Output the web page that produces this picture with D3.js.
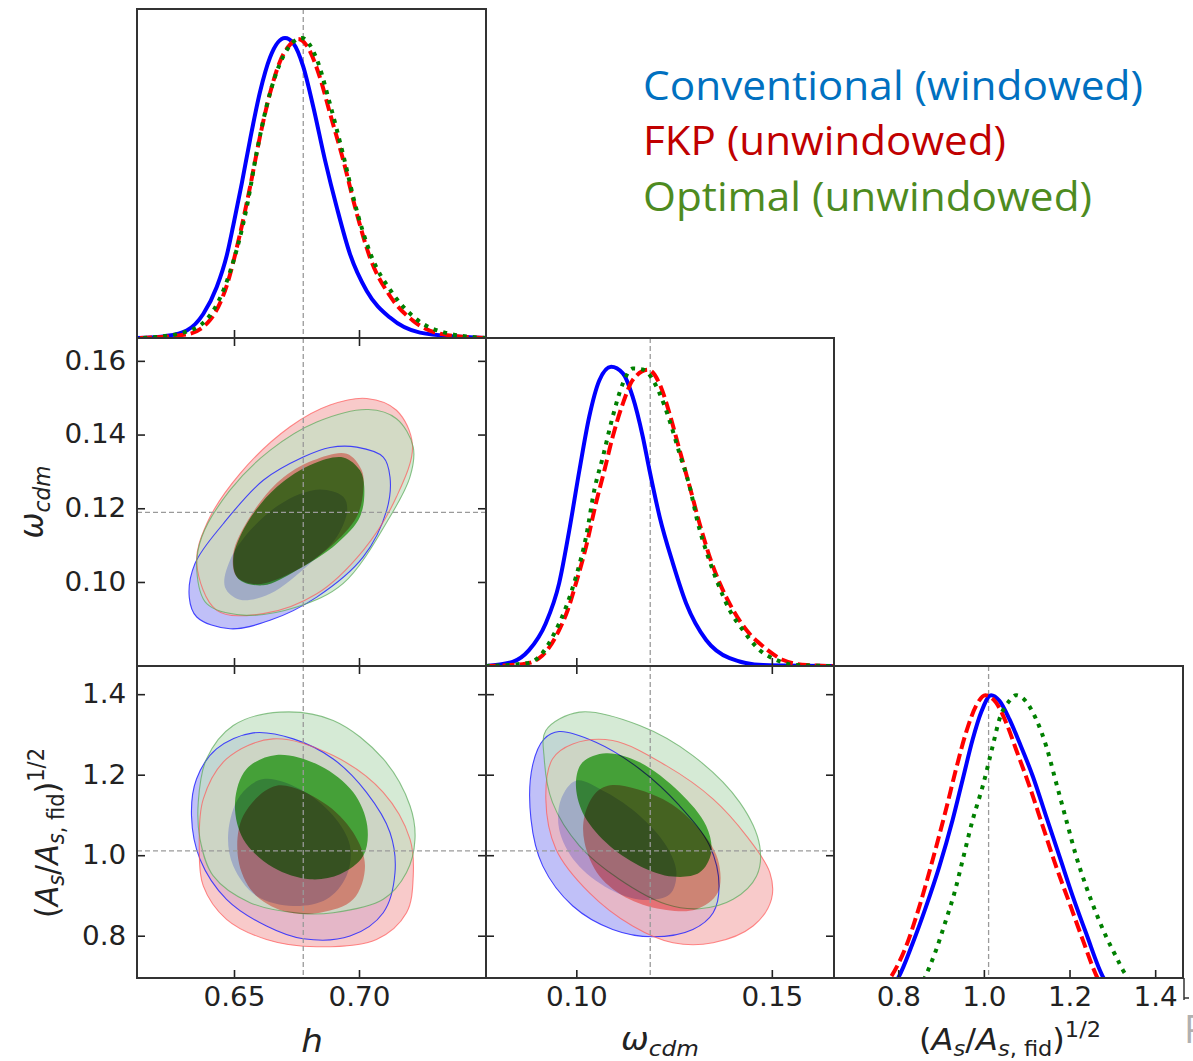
<!DOCTYPE html>
<html><head><meta charset="utf-8">
<script src="https://cdn.jsdelivr.net/npm/d3@7"></script>
<style>body{margin:0;background:#fff}svg{display:block}</style>
</head><body>
<svg id="c" width="1193" height="1061"></svg>
<script>
// ---------------- data ----------------
const seriesNames = ["Conventional (windowed)", "FKP (unwindowed)", "Optimal (unwindowed)"];
const hDomain = [0.6112, 0.7508];
const wDomain = [0.0769, 0.1659];
const wDomainY = [0.0772, 0.1662];
const aDomainX = [0.650, 1.465];
const aDomainY = [0.695, 1.470];
const fiducial = [0.6777, 0.1189, 1.011];
const hTicks = [0.65, 0.70];
const wTicksX = [0.10, 0.15];
const wTicksY = [0.10, 0.12, 0.14, 0.16];
const aTicks = [0.8, 1.0, 1.2, 1.4];

// 1D marginals [value, normalised density]
const h_conv = [[0.6111,0],[0.6231,0.007],[0.6311,0.025],[0.6377,0.08],[0.6431,0.17],[0.6471,0.275],[0.6497,0.375],[0.6531,0.515],[0.6564,0.66],[0.6604,0.82],[0.6644,0.935],[0.6704,1.0],[0.6737,0.983],[0.6777,0.905],[0.6817,0.771],[0.6864,0.593],[0.6911,0.436],[0.6964,0.280],[0.7031,0.157],[0.7124,0.068],[0.7244,0.018],[0.7431,0.003],[0.7508,0]];
const h_fkp = [[0.6124,0],[0.6311,0.012],[0.6404,0.06],[0.6471,0.175],[0.6524,0.347],[0.6564,0.503],[0.6604,0.672],[0.6644,0.816],[0.6684,0.922],[0.6724,0.978],[0.6757,0.997],[0.6791,0.975],[0.6844,0.868],[0.6884,0.749],[0.6937,0.593],[0.6991,0.415],[0.7044,0.268],[0.7124,0.140],[0.7217,0.057],[0.7337,0.012],[0.7508,0]];
const h_opt = [[0.6137,0],[0.6297,0.018],[0.6391,0.062],[0.6484,0.22],[0.6551,0.436],[0.6591,0.62],[0.6631,0.775],[0.6697,0.939],[0.6771,1.0],[0.6831,0.93],[0.6884,0.78],[0.6937,0.61],[0.6991,0.425],[0.7044,0.285],[0.7137,0.146],[0.7231,0.062],[0.7364,0.014],[0.7508,0]];

const w_conv = [[0.0768,0],[0.0837,0.014],[0.0879,0.053],[0.0922,0.143],[0.0956,0.276],[0.0982,0.454],[0.1008,0.655],[0.1033,0.833],[0.1059,0.955],[0.1089,1.0],[0.1119,0.978],[0.1144,0.900],[0.1170,0.766],[0.1187,0.655],[0.1213,0.499],[0.1247,0.343],[0.1281,0.209],[0.1332,0.087],[0.1392,0.026],[0.1478,0.003],[0.1657,0]];
const w_fkp = [[0.0768,0],[0.0862,0.006],[0.0905,0.026],[0.0956,0.120],[0.0978,0.187],[0.0999,0.276],[0.1025,0.399],[0.1050,0.543],[0.1072,0.655],[0.1093,0.766],[0.1119,0.877],[0.1144,0.955],[0.1183,0.990],[0.1217,0.930],[0.1238,0.845],[0.1264,0.722],[0.1290,0.599],[0.1315,0.477],[0.1341,0.365],[0.1367,0.276],[0.1401,0.187],[0.1435,0.120],[0.1478,0.065],[0.1529,0.020],[0.1589,0.003],[0.1657,0]];
const w_opt = [[0.0768,0],[0.0871,0.009],[0.0905,0.031],[0.0948,0.120],[0.0974,0.198],[0.0999,0.298],[0.1025,0.432],[0.1046,0.588],[0.1068,0.699],[0.1093,0.833],[0.1119,0.944],[0.1144,0.994],[0.1170,0.991],[0.1213,0.911],[0.1238,0.822],[0.1264,0.710],[0.1290,0.599],[0.1311,0.477],[0.1337,0.365],[0.1362,0.276],[0.1392,0.187],[0.1426,0.120],[0.1469,0.053],[0.1512,0.020],[0.1563,0.003],[0.1657,0]];

const a_conv = [[0.78,0.02],[0.7998,0.058],[0.8335,0.173],[0.8647,0.295],[0.8959,0.429],[0.9271,0.585],[0.9505,0.719],[0.9739,0.853],[0.9934,0.942],[1.0168,1.0],[1.0363,0.981],[1.0596,0.920],[1.0830,0.842],[1.1142,0.730],[1.1454,0.596],[1.1766,0.463],[1.2078,0.329],[1.2390,0.206],[1.2795,0.058],[1.30,0.02]];
const a_fkp = [[0.76,0.02],[0.7813,0.058],[0.8179,0.162],[0.8491,0.295],[0.8803,0.451],[0.9115,0.619],[0.9349,0.753],[0.9583,0.875],[0.9817,0.964],[1.0035,1.0],[1.0285,0.975],[1.0518,0.909],[1.0752,0.819],[1.1064,0.697],[1.1376,0.563],[1.1688,0.429],[1.2000,0.307],[1.2312,0.184],[1.2624,0.067],[1.28,0.02]];
const a_opt = [[0.85,0.02],[0.8647,0.067],[0.8881,0.150],[0.9115,0.251],[0.9310,0.340],[0.9505,0.451],[0.9739,0.585],[0.9973,0.697],[1.0207,0.831],[1.0363,0.920],[1.0596,0.981],[1.0752,1.0],[1.0908,0.99],[1.1220,0.920],[1.1454,0.831],[1.1688,0.708],[1.1922,0.585],[1.2156,0.463],[1.2390,0.362],[1.2624,0.273],[1.2858,0.195],[1.3091,0.128],[1.3247,0.084],[1.3364,0.058],[1.35,0.03]];

// 2D contours (68% inner, 95% outer)
const hW_conv_outer = [[0.6991,0.1366],[0.7097,0.1339],[0.7124,0.1285],[0.7111,0.1195],[0.7017,0.1068],[0.6831,0.0959],[0.6644,0.0896],[0.6484,0.0873],[0.6351,0.0905],[0.6321,0.0959],[0.6344,0.1050],[0.6457,0.1158],[0.6617,0.1276],[0.6777,0.1339],[0.6884,0.1365]];
const hW_conv_inner = [[0.6844,0.1251],[0.6937,0.1231],[0.6953,0.1195],[0.6911,0.1122],[0.6804,0.1050],[0.6644,0.0968],[0.6524,0.0952],[0.6464,0.0986],[0.6484,0.1059],[0.6577,0.1149],[0.6711,0.1222]];
const hW_fkp_outer = [[0.7031,0.1498],[0.7150,0.1466],[0.7214,0.1371],[0.7150,0.1231],[0.7017,0.1086],[0.6831,0.0968],[0.6617,0.0914],[0.6431,0.0923],[0.6351,0.1050],[0.6391,0.1158],[0.6524,0.1294],[0.6724,0.1421],[0.6884,0.1480]];
const hW_fkp_inner = [[0.6951,0.1348],[0.7011,0.1303],[0.7017,0.1249],[0.6991,0.1177],[0.6884,0.1095],[0.6724,0.1023],[0.6591,0.0994],[0.6511,0.1014],[0.6497,0.1077],[0.6564,0.1177],[0.6684,0.1276],[0.6817,0.1330]];
const hW_opt_outer = [[0.7037,0.1468],[0.7150,0.1443],[0.7217,0.1366],[0.7204,0.1285],[0.7124,0.1177],[0.6937,0.0996],[0.6751,0.0932],[0.6537,0.0910],[0.6391,0.0941],[0.6351,0.1032],[0.6371,0.1122],[0.6484,0.1249],[0.6644,0.1357],[0.6831,0.1434]];
const hW_opt_inner = [[0.6937,0.1338],[0.7004,0.1303],[0.7021,0.1258],[0.7004,0.1177],[0.6911,0.1104],[0.6751,0.1032],[0.6617,0.0991],[0.6517,0.1009],[0.6497,0.1063],[0.6551,0.1158],[0.6671,0.1258],[0.6817,0.1321]];

const hA_conv_outer = [[0.6577,1.3039],[0.6737,1.2890],[0.6897,1.2391],[0.7030,1.1561],[0.7124,1.0565],[0.7144,0.9569],[0.7097,0.8572],[0.6964,0.7991],[0.6777,0.7925],[0.6630,0.8241],[0.6470,0.8905],[0.6364,0.9901],[0.6330,1.0980],[0.6350,1.1893],[0.6430,1.2640]];
const hA_conv_inner = [[0.6617,1.1893],[0.6764,1.1644],[0.6897,1.0980],[0.6964,1.0233],[0.6950,0.9486],[0.6870,0.8905],[0.6737,0.8739],[0.6590,0.8988],[0.6497,0.9735],[0.6477,1.0565],[0.6524,1.1478]];
const hA_fkp_outer = [[0.6657,1.2890],[0.6897,1.2474],[0.7097,1.1561],[0.7204,1.0399],[0.7217,0.9486],[0.7190,0.8573],[0.7070,0.7908],[0.6830,0.7726],[0.6630,0.7908],[0.6470,0.8407],[0.6377,0.9237],[0.6361,1.0233],[0.6377,1.1395],[0.6470,1.2391]];
const hA_fkp_inner = [[0.6670,1.1727],[0.6857,1.1312],[0.6977,1.0565],[0.7024,0.9735],[0.6977,0.8905],[0.6844,0.8572],[0.6697,0.8614],[0.6577,0.9071],[0.6517,0.9901],[0.6537,1.0980]];
const hA_opt_outer = [[0.6684,1.3554],[0.6897,1.3346],[0.7097,1.2391],[0.7204,1.1229],[0.7224,1.0399],[0.7190,0.9569],[0.7097,0.8905],[0.6897,0.8572],[0.6764,0.8556],[0.6564,0.8822],[0.6417,0.9486],[0.6364,1.0399],[0.6357,1.1312],[0.6390,1.2391],[0.6497,1.3222]];
const hA_opt_inner = [[0.6670,1.2491],[0.6844,1.2225],[0.6977,1.1561],[0.7033,1.0731],[0.7017,0.9984],[0.6924,0.9527],[0.6804,0.9403],[0.6657,0.9693],[0.6537,1.0399],[0.6504,1.1312],[0.6550,1.2142]];

const wA_conv_outer = [[0.0956,1.3072],[0.1050,1.2807],[0.1162,1.2142],[0.1264,1.1229],[0.1341,1.0233],[0.1365,0.9237],[0.1350,0.8572],[0.1298,0.8157],[0.1196,0.7975],[0.1093,0.8157],[0.0991,0.8739],[0.0914,0.9735],[0.0884,1.0897],[0.0888,1.2225],[0.0918,1.2890]];
const wA_conv_inner = [[0.0999,1.1852],[0.1076,1.1561],[0.1162,1.0980],[0.1230,1.0233],[0.1256,0.9569],[0.1239,0.9029],[0.1170,0.8888],[0.1085,0.9154],[0.0999,0.9818],[0.0956,1.0648],[0.0961,1.1395]];
const wA_fkp_outer = [[0.0991,1.2765],[0.1093,1.2848],[0.1230,1.2225],[0.1350,1.1395],[0.1435,1.0482],[0.1495,0.9569],[0.1499,0.8905],[0.1452,0.8241],[0.1350,0.7825],[0.1247,0.7825],[0.1144,0.8241],[0.1033,0.9071],[0.0948,1.0150],[0.0922,1.1395],[0.0939,1.2391]];
const wA_fkp_inner = [[0.1093,1.1744],[0.1221,1.1395],[0.1307,1.0731],[0.1362,0.9901],[0.1362,0.9071],[0.1307,0.8655],[0.1230,0.8639],[0.1136,0.8905],[0.1059,0.9486],[0.1021,1.0316],[0.1021,1.0980],[0.1051,1.1561]];
const wA_opt_outer = [[0.0922,1.3097],[0.1008,1.3554],[0.1162,1.3222],[0.1298,1.2474],[0.1418,1.1312],[0.1469,1.0233],[0.1461,0.9486],[0.1401,0.8905],[0.1315,0.8672],[0.1230,0.8780],[0.1110,0.9403],[0.1008,1.0233],[0.0939,1.1312],[0.0918,1.2391]];
const wA_opt_inner = [[0.1076,1.2533],[0.1162,1.2308],[0.1264,1.1561],[0.1332,1.0731],[0.1345,1.0067],[0.1315,0.9569],[0.1247,0.9469],[0.1162,0.9735],[0.1076,1.0316],[0.1016,1.1063],[0.0999,1.1810],[0.1016,1.2308]];

// ---------------- layout & styles ----------------
const colX = [[137,486],[486,834],[834,1183]];
const rowY = [[9,338],[338,666],[666,978]];
const lineColors = ["#0000ff","#ff0000","#008000"];
const dashes = [null, "12,5", "4,6"];
const outerFill = ["rgb(165,165,245)","rgb(245,180,180)","rgb(195,225,195)"];
const outerOpacity = 0.7;
const outerStroke = ["rgba(40,40,255,0.85)","rgba(255,90,90,0.7)","rgba(90,170,90,0.7)"];
const innerFill = ["rgb(200,206,255)","rgb(255,158,150)","rgb(85,192,72)"];
const legendColors = ["#0070C0","#C00000","#4E8B1F"];
const FONT = "DejaVu Sans";
const TL = 8;
const SX = 1.07; // horizontal text stretch of the original

const svg = d3.select("#c");
const defs = svg.append("defs");

const xS = [
  d3.scaleLinear().domain(hDomain).range(colX[0]),
  d3.scaleLinear().domain(wDomain).range(colX[1]),
  d3.scaleLinear().domain(aDomainX).range(colX[2])
];
const yS = [
  null,
  d3.scaleLinear().domain(wDomainY).range([rowY[1][1], rowY[1][0]]),
  d3.scaleLinear().domain(aDomainY).range([rowY[2][1], rowY[2][0]])
];
const diagY = [
  d3.scaleLinear().domain([0, 1.097]).range([rowY[0][1], rowY[0][0]]),
  d3.scaleLinear().domain([0, 1.096]).range([rowY[1][1], rowY[1][0]]),
  d3.scaleLinear().domain([0.058, 1.097]).range([rowY[2][1], rowY[2][0]])
];
const xTickVals = [hTicks, wTicksX, aTicks];
const yTickVals = [null, wTicksY, aTicks];
const marginals = [[h_conv,h_fkp,h_opt],[w_conv,w_fkp,w_opt],[a_conv,a_fkp,a_opt]];
const contours = {
  "1,0": [[hW_conv_outer,hW_fkp_outer,hW_opt_outer],[hW_conv_inner,hW_fkp_inner,hW_opt_inner]],
  "2,0": [[hA_conv_outer,hA_fkp_outer,hA_opt_outer],[hA_conv_inner,hA_fkp_inner,hA_opt_inner]],
  "2,1": [[wA_conv_outer,wA_fkp_outer,wA_opt_outer],[wA_conv_inner,wA_fkp_inner,wA_opt_inner]]
};

function fidStyle(sel){
  return sel.attr("stroke","#9a9a9a").attr("stroke-width",1.3).attr("stroke-dasharray","5,3").attr("fill","none");
}

for (let r = 0; r < 3; r++) {
  for (let c = 0; c <= r; c++) {
    const x0 = colX[c][0], x1 = colX[c][1], y0 = rowY[r][0], y1 = rowY[r][1];
    const id = `clip${r}${c}`;
    defs.append("clipPath").attr("id", id).append("rect")
      .attr("x", x0).attr("y", y0).attr("width", x1 - x0).attr("height", y1 - y0);
    const g = svg.append("g");
    const content = g.append("g").attr("clip-path", `url(#${id})`);
    const xs = xS[c];
    if (r === c) {
      const ys = diagY[r];
      fidStyle(content.append("line")).attr("x1", xs(fiducial[c])).attr("x2", xs(fiducial[c])).attr("y1", y0).attr("y2", y1);
      const line = d3.line().x(d => xs(d[0])).y(d => ys(d[1])).curve(d3.curveMonotoneX);
      marginals[c].forEach((data, k) => {
        const p = content.append("path").attr("d", line(data)).attr("fill","none")
          .attr("stroke", lineColors[k]).attr("stroke-width", 4).attr("stroke-linejoin","round");
        if (dashes[k]) p.attr("stroke-dasharray", dashes[k]);
      });
    } else {
      const ys = yS[r];
      const area = d3.line().x(d => xs(d[0])).y(d => ys(d[1])).curve(d3.curveCatmullRomClosed);
      const [outers, inners] = contours[`${r},${c}`];
      outers.forEach((data, k) => {
        content.append("path").attr("d", area(data)).attr("fill", outerFill[k]).attr("fill-opacity", outerOpacity);
      });
      outers.forEach((data, k) => {
        content.append("path").attr("d", area(data)).attr("fill", "none")
          .attr("stroke", outerStroke[k]).attr("stroke-width", 1.1);
      });
      inners.forEach((data, k) => {
        content.append("path").attr("d", area(data)).attr("fill", innerFill[k])
          .style("mix-blend-mode", "multiply");
      });
      fidStyle(content.append("line")).attr("x1", xs(fiducial[c])).attr("x2", xs(fiducial[c])).attr("y1", y0).attr("y2", y1);
      fidStyle(content.append("line")).attr("y1", ys(fiducial[r])).attr("y2", ys(fiducial[r])).attr("x1", x0).attr("x2", x1);
    }
    // ticks (inward)
    const tickStyle = s => { s.select(".domain").remove(); s.selectAll(".tick line").attr("stroke","#222").attr("stroke-width",1.6); s.selectAll("text").remove(); };
    g.append("g").attr("transform", `translate(0,${y1})`)
      .call(d3.axisBottom(xs).tickValues(xTickVals[c]).tickSize(-TL)).call(tickStyle);
    if (r !== c) {
      const ys = yS[r];
      g.append("g").attr("transform", `translate(0,${y0})`)
        .call(d3.axisTop(xs).tickValues(xTickVals[c]).tickSize(-TL)).call(tickStyle);
      g.append("g").attr("transform", `translate(${x0},0)`)
        .call(d3.axisLeft(ys).tickValues(yTickVals[r]).tickSize(-TL)).call(tickStyle);
      g.append("g").attr("transform", `translate(${x1},0)`)
        .call(d3.axisRight(ys).tickValues(yTickVals[r]).tickSize(-TL)).call(tickStyle);
    }
    g.append("rect").attr("x", x0).attr("y", y0).attr("width", x1 - x0).attr("height", y1 - y0)
      .attr("fill","none").attr("stroke","#333").attr("stroke-width", 2);
  }
}

// tick labels
const labStyle = s => {
  s.select(".domain").remove(); s.selectAll(".tick line").remove();
  s.selectAll("text").attr("font-family", FONT).attr("font-size", 26).attr("fill", "#222")
    .attr("transform", `scale(${SX},1)`);
};
const fmt = [d3.format(".2f"), d3.format(".2f"), d3.format(".1f")];
for (let c = 0; c < 3; c++) {
  svg.append("g").attr("transform", `translate(0,${rowY[2][1]})`)
    .call(d3.axisBottom(xS[c]).tickValues(xTickVals[c]).tickSize(0).tickPadding(10).tickFormat(fmt[c])).call(labStyle);
}
for (let r = 1; r < 3; r++) {
  svg.append("g").attr("transform", `translate(${colX[0][0]},0)`)
    .call(d3.axisLeft(yS[r]).tickValues(yTickVals[r]).tickSize(0).tickPadding(10).tickFormat(fmt[r])).call(labStyle);
}

// math labels
function mathLabel(x, y, rot, size, parts) {
  const t = svg.append("text").attr("transform", `translate(${x},${y}) scale(${SX},1) rotate(${rot})`)
    .attr("text-anchor", "middle").attr("font-family", FONT).attr("font-size", size).attr("fill", "#222");
  let cur = 0;
  parts.forEach(p => {
    const shift = p.sub ? size * 0.2 : p.sup ? -size * 0.45 : 0;
    t.append("tspan").text(p.t).attr("dy", shift - cur)
      .attr("font-size", (p.sub || p.sup) ? size * 0.7 : size)
      .attr("font-style", p.it ? "italic" : "normal");
    cur = shift;
  });
}
const omegaLabel = [{t:"ω",it:true},{t:"cdm",it:true,sub:true}];
const ampLabel = [{t:"("},{t:"A",it:true},{t:"s",it:true,sub:true},{t:"/"},{t:"A",it:true},{t:"s",it:true,sub:true},{t:", fid",sub:true},{t:")"},{t:"1/2",sup:true}];
mathLabel(312, 1052, 0, 32, [{t:"h",it:true}]);
mathLabel(660, 1050, 0, 31, omegaLabel);
mathLabel(1010, 1050, 0, 30, ampLabel);
mathLabel(43, 502, -90, 31, omegaLabel);
mathLabel(58, 833, -90, 30, ampLabel);

// legend text
const legendY = [100, 155, 211];
const legendW = [500, 363, 449];
seriesNames.forEach((name, k) => {
  svg.append("text").attr("x", 643).attr("y", legendY[k]).text(name)
    .attr("font-family", "Open Sans").attr("font-size", 40).attr("fill", legendColors[k])
    .attr("textLength", legendW[k]).attr("lengthAdjust", "spacingAndGlyphs");
});

// stray edge details
svg.append("line").attr("x1",1184).attr("x2",1184).attr("y1",978).attr("y2",1000).attr("stroke","#333").attr("stroke-width",1.5);
svg.append("line").attr("x1",1184).attr("x2",1189).attr("y1",998).attr("y2",998).attr("stroke","#333").attr("stroke-width",1.5);
svg.append("text").attr("x",1184).attr("y",1043).text("P").attr("font-family","Open Sans").attr("font-size",38).attr("fill","#b0b0b0");
</script>
</body></html>
